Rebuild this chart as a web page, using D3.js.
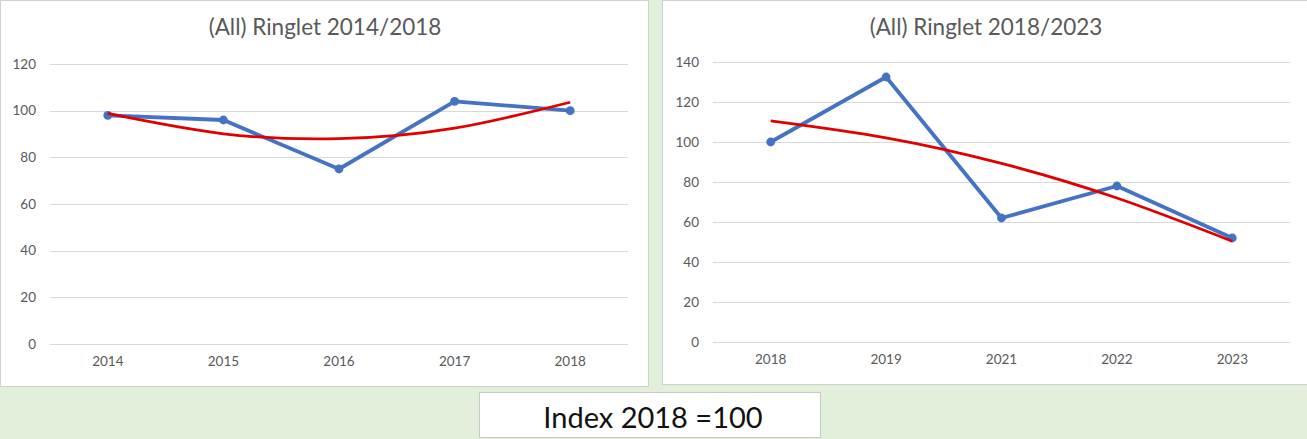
<!DOCTYPE html>
<html>
<head>
<meta charset="utf-8">
<script src="https://cdn.jsdelivr.net/npm/d3@7"></script>
<style>
  html, body { margin: 0; padding: 0; background: #e2efda; }
  svg { display: block; }
</style>
</head>
<body>
<svg id="chart" width="1307" height="439"></svg>
<script>
// ---- data ----
const categoriesA = ["2014", "2015", "2016", "2017", "2018"];
const valuesA = [98, 96, 75, 104, 100];
const trendA = [98.8, 90.1, 88.0, 92.5, 103.6];
const titleA = "(All) Ringlet 2014/2018";
const yTicksA = [0, 20, 40, 60, 80, 100, 120];

const categoriesB = ["2018", "2019", "2021", "2022", "2023"];
const valuesB = [100, 132.5, 62, 78, 52];
const trendB = [110.6, 102.1, 89.3, 72.0, 50.4];
const titleB = "(All) Ringlet 2018/2023";
const yTicksB = [0, 20, 40, 60, 80, 100, 120, 140];

const footnote = "Index 2018 =100";

// ---- drawing ----
const svg = d3.select("#chart");
const FONT = "Lato, 'Liberation Sans', sans-serif";

function panel(cfg) {
  const g = svg.append("g");
  g.append("rect")
    .attr("x", cfg.px + 0.5).attr("y", cfg.py + 0.5)
    .attr("width", cfg.pw - 1).attr("height", cfg.ph - 1)
    .attr("fill", "#ffffff").attr("stroke", "#d0d0d0").attr("stroke-width", 1);

  g.append("text")
    .attr("x", cfg.titleX).attr("y", 35)
    .attr("text-anchor", "middle")
    .attr("font-family", FONT).attr("font-size", 22.5)
    .attr("fill", "#595959")
    .text(cfg.title);

  const x = d3.scaleBand().domain(cfg.categories).range([cfg.x0, cfg.x1]);
  const y = d3.scaleLinear().domain([0, d3.max(cfg.yTicks)]).range([cfg.y0, cfg.y1]);

  // gridlines
  g.append("g").selectAll("line").data(cfg.yTicks).join("line")
    .attr("x1", cfg.x0).attr("x2", cfg.x1)
    .attr("y1", d => Math.round(y(d)) + 0.5).attr("y2", d => Math.round(y(d)) + 0.5)
    .attr("stroke", "#d9d9d9").attr("stroke-width", 1);

  // y axis labels
  const yAxis = d3.axisLeft(y).tickValues(cfg.yTicks).tickSize(0).tickPadding(0);
  const ya = g.append("g").attr("transform", `translate(${cfg.yLabelX},0)`).call(yAxis);
  ya.select(".domain").remove();
  ya.selectAll("text").attr("font-family", FONT).attr("font-size", 13.5).attr("fill", "#595959");

  // x axis labels
  const xAxis = d3.axisBottom(x).tickSize(0).tickPadding(0);
  const xa = g.append("g").attr("transform", `translate(0,${cfg.y0 + 12})`).call(xAxis);
  xa.select(".domain").remove();
  xa.selectAll("text").attr("font-family", FONT).attr("font-size", 13.5).attr("fill", "#595959");

  const cx = (d, i) => x(cfg.categories[i]) + x.bandwidth() / 2;

  // data line
  g.append("path")
    .datum(cfg.values)
    .attr("d", d3.line().x(cx).y(d => y(d)))
    .attr("fill", "none").attr("stroke", "#4472c4").attr("stroke-width", 3.8)
    .attr("stroke-linejoin", "round").attr("stroke-linecap", "round");

  g.append("g").selectAll("circle").data(cfg.values).join("circle")
    .attr("cx", cx).attr("cy", d => y(d)).attr("r", 4.4)
    .attr("fill", "#4472c4");

  // trendline (polynomial)
  g.append("path")
    .datum(cfg.trend)
    .attr("d", d3.line().x(cx).y(d => y(d)).curve(d3.curveNatural))
    .attr("fill", "none").attr("stroke", "#e00000").attr("stroke-width", 2.8)
    .attr("stroke-linecap", "butt");
}

panel({
  px: 0, py: 0, pw: 649, ph: 387,
  x0: 50, x1: 628, y0: 344, y1: 64,
  yLabelX: 36, titleX: 325,
  categories: categoriesA, values: valuesA, trend: trendA, title: titleA, yTicks: yTicksA
});

panel({
  px: 662, py: 0, pw: 646, ph: 385,
  x0: 713, x1: 1290, y0: 342, y1: 62,
  yLabelX: 699, titleX: 986,
  categories: categoriesB, values: valuesB, trend: trendB, title: titleB, yTicks: yTicksB
});

// footnote box
svg.append("rect")
  .attr("x", 479.5).attr("y", 392.5).attr("width", 341).attr("height", 45)
  .attr("fill", "#ffffff").attr("stroke", "#c8c8c8").attr("stroke-width", 1);
svg.append("text")
  .attr("x", 653).attr("y", 428)
  .attr("text-anchor", "middle")
  .attr("font-family", FONT).attr("font-size", 29)
  .attr("fill", "#111111")
  .text(footnote);
</script>
</body>
</html>
